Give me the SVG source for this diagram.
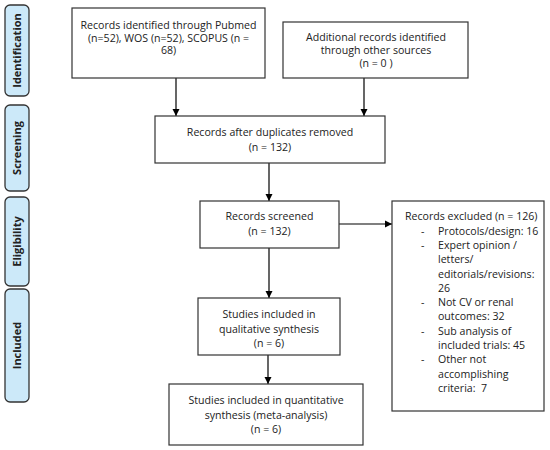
<svg xmlns="http://www.w3.org/2000/svg" width="550" height="450" viewBox="0 0 550 450">
<defs>
<marker id="ah" markerWidth="8" markerHeight="8" refX="7" refY="4" orient="auto" markerUnits="userSpaceOnUse">
<path d="M0,0.5 L7,4 L0,7.5 z" fill="#000"/>
</marker>
<style>
.side{fill:#cce9f9;stroke:#333;stroke-width:1.3}
.box{fill:#fff;stroke:#333;stroke-width:1.2}
text{font-family:"Open Sans","Liberation Sans",Arial,sans-serif;font-size:10.6px;fill:#222;white-space:pre}
.c{text-anchor:middle}
.lab{font-weight:bold;font-size:11px;text-anchor:middle}
.con{stroke:#000;stroke-width:1.2;fill:none;marker-end:url(#ah)}
</style>
</defs>
<rect width="550" height="450" fill="#fff"/>
<g id="side-identification"><rect class="side" x="5" y="5" width="24" height="91" rx="5"/><text class="lab" transform="translate(21,50.5) rotate(-90)">Identification</text></g>
<g id="side-screening"><rect class="side" x="5" y="105" width="24" height="86" rx="5"/><text class="lab" transform="translate(21,148) rotate(-90)">Screening</text></g>
<g id="side-eligibility"><rect class="side" x="5" y="197" width="24" height="89" rx="5"/><text class="lab" transform="translate(21,241.5) rotate(-90)">Eligibility</text></g>
<g id="side-included"><rect class="side" x="5" y="289" width="24" height="113" rx="5"/><text class="lab" transform="translate(21,345.5) rotate(-90)">Included</text></g>

<g id="connectors">
<line class="con" x1="176" y1="78" x2="176" y2="116"/>
<line class="con" x1="364" y1="78" x2="364" y2="116"/>
<line class="con" x1="269" y1="163" x2="269" y2="201"/>
<line class="con" x1="339" y1="224" x2="392" y2="224"/>
<line class="con" x1="269" y1="248" x2="269" y2="298"/>
<line class="con" x1="268" y1="355" x2="268" y2="384"/>
</g>

<g id="n1"><rect class="box" x="72" y="8" width="193" height="70"/>
<text class="c" x="168.5" y="29">Records identified through Pubmed</text>
<text class="c" x="168.5" y="41.5">(n=52), WOS (n=52), SCOPUS (n =</text>
<text class="c" x="168.5" y="54">68)</text></g>
<g id="n2"><rect class="box" x="283" y="22" width="185" height="56"/>
<text class="c" x="376" y="40.5">Additional records identified</text>
<text class="c" x="376" y="53.5">through other sources</text>
<text class="c" x="376" y="67">(n = 0 )</text></g>
<g id="n3"><rect class="box" x="155" y="116" width="230" height="47"/>
<text class="c" x="270" y="136">Records after duplicates removed</text>
<text class="c" x="270" y="150.5">(n = 132)</text></g>
<g id="n4"><rect class="box" x="200" y="201" width="139" height="47"/>
<text class="c" x="269.5" y="220">Records screened</text>
<text class="c" x="269.5" y="234.5">(n = 132)</text></g>
<g id="n5"><rect class="box" x="392" y="201" width="152" height="210"/>
<text x="405" y="220">Records excluded (n = 126)</text>
<text x="421" y="234.5">-</text><text x="438" y="234.5">Protocols/design: 16</text>
<text x="421" y="249">-</text><text x="438" y="249">Expert opinion /</text>
<text x="438" y="263">letters/</text>
<text x="438" y="277.5">editorials/revisions:</text>
<text x="438" y="292">26</text>
<text x="421" y="306">-</text><text x="438" y="306">Not CV or renal</text>
<text x="438" y="320">outcomes: 32</text>
<text x="421" y="334.5">-</text><text x="438" y="334.5">Sub analysis of</text>
<text x="438" y="349">included trials: 45</text>
<text x="421" y="363">-</text><text x="438" y="363">Other not</text>
<text x="438" y="377.5">accomplishing</text>
<text x="438" y="392">criteria:  7</text></g>
<g id="n6"><rect class="box" x="198" y="298" width="142" height="57"/>
<text class="c" x="269" y="318">Studies included in</text>
<text class="c" x="269" y="332.5">qualitative synthesis</text>
<text class="c" x="269" y="347">(n = 6)</text></g>
<g id="n7"><rect class="box" x="169" y="384" width="194" height="61"/>
<text class="c" x="266" y="404">Studies included in quantitative</text>
<text class="c" x="266" y="418.5">synthesis (meta-analysis)</text>
<text class="c" x="266" y="432.5">(n = 6)</text></g>
</svg>
